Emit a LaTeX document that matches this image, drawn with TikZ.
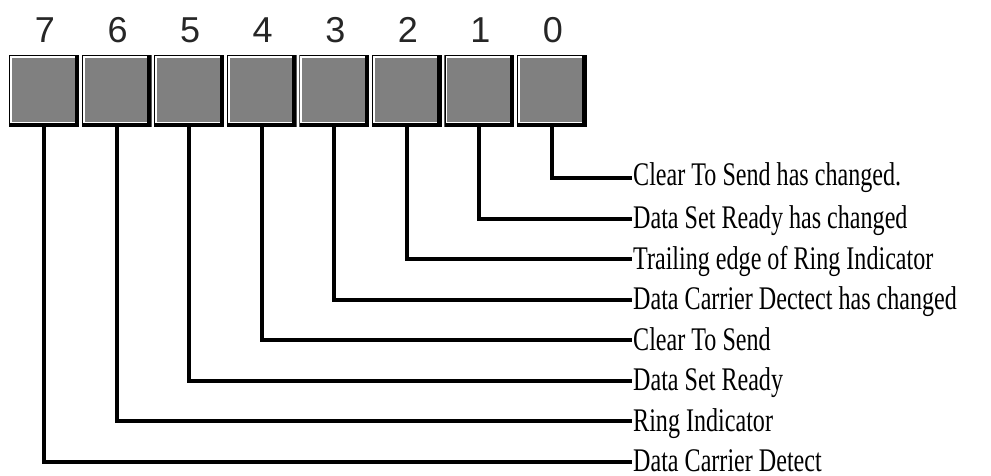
\documentclass[tikz,border=0pt]{standalone}
\usepackage{fontspec}
\setmainfont{Liberation Sans}
\newfontfamily\labelfont[FakeStretch=0.73]{Liberation Serif}
\definecolor{boxgray}{HTML}{808080}
\begin{document}
\begin{tikzpicture}[x=1pt,y=-1pt,
  bitbox/.style={rectangle, minimum width=70pt, minimum height=72pt,
    inner sep=0pt, outer sep=0pt,
    path picture={
      \fill[black] (path picture bounding box.south west) rectangle (path picture bounding box.north east);
      \fill[white] ([xshift=1.2pt,yshift=-1.2pt]path picture bounding box.north west)
        rectangle ([xshift=-4.5pt,yshift=4.5pt]path picture bounding box.south east);
      \fill[boxgray] ([xshift=3pt,yshift=-3pt]path picture bounding box.north west)
        rectangle ([xshift=-4.5pt,yshift=5.5pt]path picture bounding box.south east);
    }},
  bitnum/.style={font=\fontsize{36}{36}\selectfont, inner sep=0pt, text=black!85},
  bitlabel/.style={anchor=west, inner xsep=1pt, inner ysep=0pt,
    text depth=1.5pt,
    font=\labelfont\fontsize{33}{33}\selectfont},
  wire/.style={line width=4pt}]
\useasboundingbox (0,0) rectangle (991,475);
% register bits, most significant on the left
\foreach \b in {0,...,7}{
  \pgfmathsetmacro\bx{44+(7-\b)*72.57}
  \node[bitbox] (b\b) at (\bx,91) {};
  \node[bitnum] (d\b) at (\bx+1,30) {\b};
}
% bit descriptions; the text height sets where the wire meets the text
\foreach \b/\txt/\th in {
  0/{Clear To Send has changed.}/15.5,
  1/{Data Set Ready has changed}/21.5,
  2/{Trailing edge of Ring Indicator}/21.5,
  3/{Data Carrier Dectect has changed}/21.5,
  4/{Clear To Send}/21.5,
  5/{Data Set Ready}/21.5,
  6/{Ring Indicator}/21.5,
  7/{Data Carrier Detect}/21.5}{
  \node[bitlabel,text height=\th pt] (l\b) at (632,178+\b*40.5) {\txt};
  \draw[wire] (b\b.south) |- (l\b.west);
}
\end{tikzpicture}
\end{document}
